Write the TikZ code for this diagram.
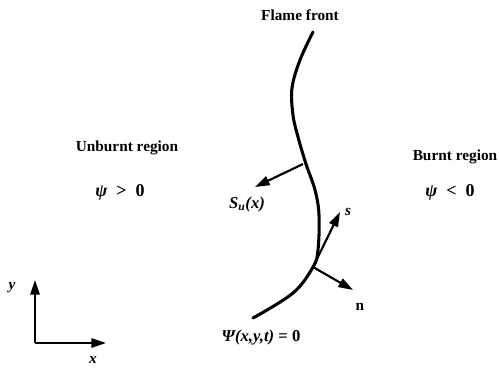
\documentclass[tikz,border=0pt]{standalone}
\usepackage{fontspec}
\setmainfont{Liberation Serif}
\usetikzlibrary{arrows.meta}
\tikzset{
  lbl/.style={font=\fontsize{11.5}{13}\selectfont\bfseries},
  biglbl/.style={font=\fontsize{13.5}{15}\selectfont\bfseries},
  vec/.style={line width=1.6pt,-{Triangle[length=11pt,width=7pt]}},
  front/.style={line width=2.3pt,line cap=round}
}
\begin{document}
\begin{tikzpicture}[x=0.75pt,y=-0.75pt]
			\useasboundingbox (0,0) rectangle (499,369);
			% flame front
			\draw[front] plot[smooth,tension=0.6] coordinates {(313,32) (300,60) (292,88) (293,115) (298,137) (306,164) (315,190) (319,215) (318,250) (313,267) (293,293) (253,318)};
			\coordinate (p1) at (303,164);
			\coordinate (p2) at (313,267);
			
			% labels
			\node[lbl] (ff) at (300,15) {Flame front};
			\node[lbl] (ub) at (127,148) {Unburnt region};
			\node[biglbl] (ubpsi) at (120,192) {\itshape ψ\ \ \upshape >\ \ 0};
			\node[lbl] (br) at (455,157) {Burnt region};
			\node[biglbl] (brpsi) at (450,192) {\itshape ψ\ \ \upshape <\ \ 0};
			\node[lbl,font=\fontsize{12.5}{14}\selectfont\bfseries] (eq) at (261,338) {\itshape Ψ(x,y,t)\upshape\ = 0};
			
			% speed and local frame
			\coordinate (su) at (255,187);
			\draw[vec] (p1) -- (su);
			\node[lbl,font=\fontsize{12.5}{14}\selectfont\bfseries] (sul) at (247,204) {\itshape S\textsubscript{u}(x)};
			\coordinate (st) at (340,212);
			\coordinate (nt) at (353,290);
			\draw[vec] (p2) -- (st);
			\draw[vec] (p2) -- (nt);
			\node[lbl] (sl) at (348,212) {\itshape s};
			\node[lbl] (nl) at (360,307) {n};
			
			% axes
			\coordinate (o) at (35,343);
			\coordinate (yt) at (35,280);
			\coordinate (xt) at (106,343);
			\draw[vec] (o) -- (yt);
			\draw[vec] (o) -- (xt);
			\node[lbl] (yl) at (12,288) {\itshape y};
			\node[lbl] (xl) at (93,360) {\itshape x};
		\end{tikzpicture}
\end{document}
